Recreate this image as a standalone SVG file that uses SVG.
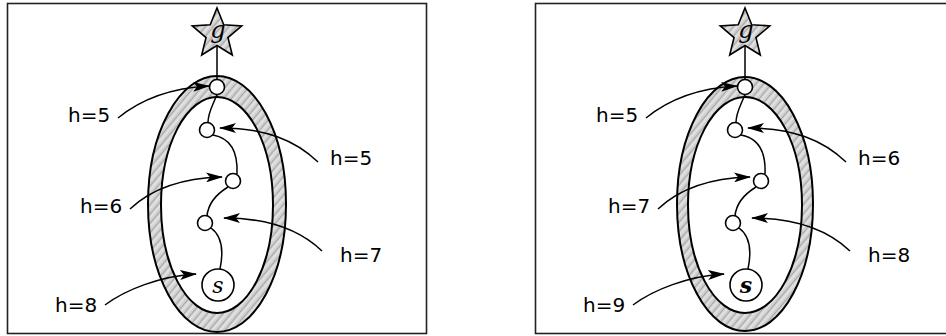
<svg xmlns="http://www.w3.org/2000/svg" width="946" height="336" viewBox="0 0 946 336">
<style>
.frame{fill:none;stroke:#222;stroke-width:1.6}
.band{fill:url(#hatch);stroke:#000;stroke-width:2}
.inner{fill:#fff;stroke:#000;stroke-width:2}
.node{fill:#fff;stroke:#000;stroke-width:1.6}
.star{fill:url(#hatch);stroke:#000;stroke-width:1.6}
.edge{fill:none;stroke:#000;stroke-width:1.5}
.arrow{fill:none;stroke:#000;stroke-width:1.5;marker-end:url(#ah)}
.lbl{font-family:"DejaVu Sans",sans-serif;font-size:20px;fill:#000}
.sym{font-family:"DejaVu Serif","Liberation Serif",serif;font-style:italic;fill:#000}
</style>
<defs>
<pattern id="hatch" width="6" height="6" patternUnits="userSpaceOnUse" patternTransform="rotate(40)">
<rect width="6" height="6" fill="#d0d0d0"/>
<line x1="0" y1="0" x2="0" y2="6" stroke="#8a8a8a" stroke-width="1.2"/>
<line x1="3" y1="0" x2="3" y2="6" stroke="#f2f2f2" stroke-width="1"/>
</pattern>
<marker id="ah" markerUnits="userSpaceOnUse" markerWidth="17" markerHeight="10" refX="16" refY="5" orient="auto">
<path d="M0,0 L17,5 L0,10 L4,5 Z" fill="#000"/>
</marker>
</defs>
<rect class="frame" x="7.5" y="3.5" width="419" height="330"/>
<rect class="frame" x="535.5" y="3.5" width="419" height="330"/>

<g id="left">
<g id="L-region">
<ellipse class="band" cx="217" cy="204" rx="69" ry="128"/>
<ellipse class="inner" cx="217" cy="205" rx="56" ry="108"/>
</g>
<g id="L-connectors">
<path class="edge" d="M217,45.5 L217,80"/>
<path class="edge" d="M217,94.5 C213,105 208,112 208,122.5"/>
<path class="edge" d="M213,135 C230,138 238,152 237,174"/>
<path class="edge" d="M228,187 C215,195 208,205 207,216"/>
<path class="edge" d="M211,228 C222,236 224,250 220,269"/>
<path class="arrow" d="M118,118 C140,100 170,88 209,86"/>
<path class="arrow" d="M318,162 C295,140 265,128 220,128"/>
<path class="arrow" d="M130,209 C150,190 180,178 222,177"/>
<path class="arrow" d="M322,251 C300,230 270,218 224,218"/>
<path class="arrow" d="M105,305 C125,290 160,276 196,274"/>
</g>
<g id="L-g"><polygon class="star" points="217,8 223.76,24.7 241.73,25.97 227.94,37.55 232.28,55.03 217,45.5 201.72,55.03 206.06,37.55 192.27,25.97 210.24,24.7"/><text class="sym" x="218" y="38" font-size="24" text-anchor="middle">g</text></g>
<g id="L-n1"><circle class="node" cx="217" cy="87" r="7.5"/></g>
<g id="L-n2"><circle class="node" cx="207" cy="130" r="7.5"/></g>
<g id="L-n3"><circle class="node" cx="233" cy="181" r="7.5"/></g>
<g id="L-n4"><circle class="node" cx="205" cy="223" r="7.5"/></g>
<g id="L-s"><circle class="node" cx="218" cy="285" r="16"/><text class="sym" x="218" y="293" font-size="22" text-anchor="middle">s</text></g>
<g id="L-labels">
<text class="lbl" x="68" y="122">h=5</text>
<text class="lbl" x="330" y="165">h=5</text>
<text class="lbl" x="80" y="213">h=6</text>
<text class="lbl" x="340" y="262">h=7</text>
<text class="lbl" x="55" y="312">h=8</text>
</g>
</g>

<g id="right" transform="translate(528,0)">
<g id="R-region">
<ellipse class="band" cx="217" cy="204" rx="68" ry="127"/>
<ellipse class="inner" cx="217" cy="205" rx="57" ry="108"/>
</g>
<g id="R-connectors">
<path class="edge" d="M217,45.5 L217,80"/>
<path class="edge" d="M217,94.5 C213,105 208,112 208,122.5"/>
<path class="edge" d="M213,135 C230,138 238,152 237,174"/>
<path class="edge" d="M228,187 C215,195 208,205 207,216"/>
<path class="edge" d="M211,228 C222,236 224,250 220,269"/>
<path class="arrow" d="M118,118 C140,100 170,88 209,86"/>
<path class="arrow" d="M318,162 C295,140 265,128 220,128"/>
<path class="arrow" d="M130,209 C150,190 180,178 222,177"/>
<path class="arrow" d="M322,251 C300,230 270,218 224,218"/>
<path class="arrow" d="M105,305 C125,290 160,276 196,274"/>
</g>
<g id="R-g"><polygon class="star" points="217,8 223.76,24.7 241.73,25.97 227.94,37.55 232.28,55.03 217,45.5 201.72,55.03 206.06,37.55 192.27,25.97 210.24,24.7"/><text class="sym" x="218" y="38" font-size="24" text-anchor="middle">g</text></g>
<g id="R-n1"><circle class="node" cx="217" cy="87" r="7.5"/></g>
<g id="R-n2"><circle class="node" cx="207" cy="130" r="7.5"/></g>
<g id="R-n3"><circle class="node" cx="233" cy="181" r="7.5"/></g>
<g id="R-n4"><circle class="node" cx="205" cy="223" r="7.5"/></g>
<g id="R-s"><circle class="node" cx="218" cy="285" r="16"/><text class="sym" x="218" y="293" font-size="22" font-weight="bold" text-anchor="middle">s</text></g>
<g id="R-labels">
<text class="lbl" x="68" y="122">h=5</text>
<text class="lbl" x="330" y="165">h=6</text>
<text class="lbl" x="80" y="213">h=7</text>
<text class="lbl" x="340" y="262">h=8</text>
<text class="lbl" x="55" y="312">h=9</text>
</g>
</g>
</svg>
